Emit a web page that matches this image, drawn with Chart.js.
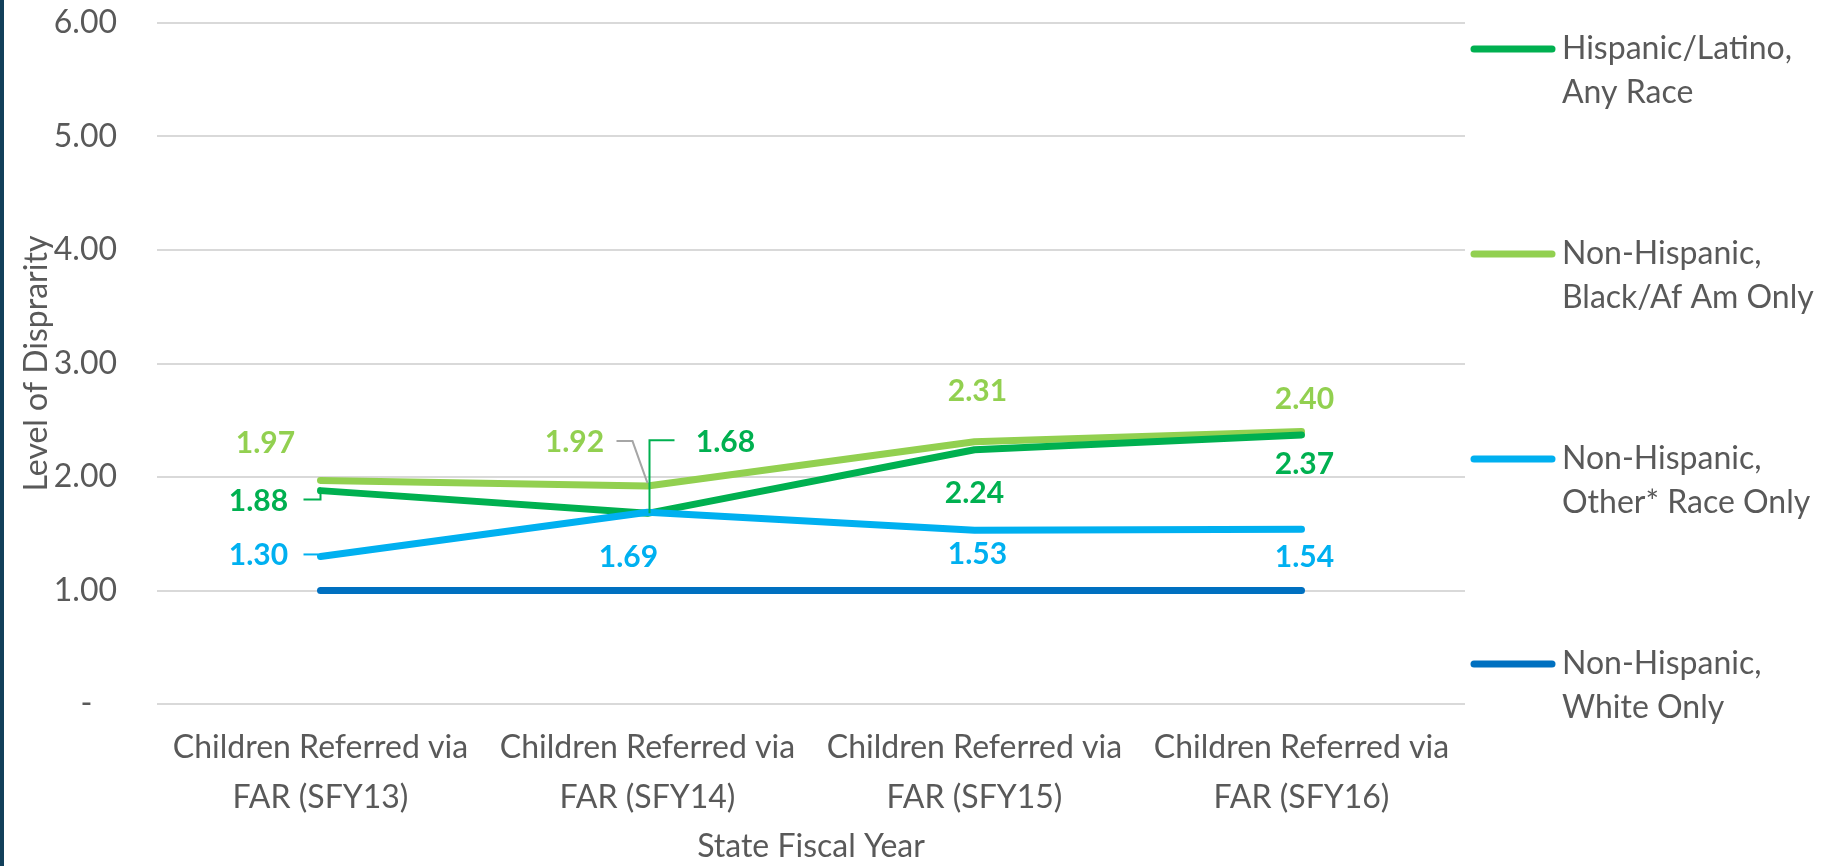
<!DOCTYPE html>
<html>
<head>
<meta charset="utf-8">
<script src="https://cdn.jsdelivr.net/npm/chart.js@4/dist/chart.umd.min.js"></script>
<style>
  html, body { margin: 0; padding: 0; background: #fff; overflow: hidden; }
  #wrap { position: relative; width: 1825px; height: 866px; }
  #edge { position: absolute; left: 0; top: 0; width: 4px; height: 866px; background: #12405a; }
  canvas { display: block; }
</style>
</head>
<body>
<div id="wrap">
  <canvas id="disparity-chart" width="1825" height="866"></canvas>
  <div id="edge"></div>
</div>
<script>
'use strict';

// data
const categories = [
    ['Children Referred via', 'FAR (SFY13)'],
    ['Children Referred via', 'FAR (SFY14)'],
    ['Children Referred via', 'FAR (SFY15)'],
    ['Children Referred via', 'FAR (SFY16)'],
];
const seriesNames = [
    ['Hispanic/Latino,', 'Any Race'],
    ['Non-Hispanic,', 'Black/Af Am Only'],
    ['Non-Hispanic,', 'Other* Race Only'],
    ['Non-Hispanic,', 'White Only'],
];
const hispanic = [1.88, 1.68, 2.24, 2.37];
const black = [1.97, 1.92, 2.31, 2.40];
const other = [1.30, 1.69, 1.53, 1.54];
const white = [1.00, 1.00, 1.00, 1.00];
const yTickMin = 0;
const yTickMax = 6;
const yTickStep = 1;

const colors = ['#00B050', '#92D050', '#00B0F0', '#0070C0'];
const textGrey = '#595959';

// where each value label sits relative to its point (null = no label)
const labelOffsets = [
    [
        {dx: -62, dy: 11, leader: [[-17, 9], [0, 9], [0, 1]]},
        {dx: 78, dy: -71, leader: [[2, 0], [2, -73], [27, -73]]},
        {dx: 0, dy: 44},
        {dx: 3, dy: 29},
    ],
    [
        {dx: -55, dy: -37},
        {dx: -73, dy: -44, leader: [[-31, -45], [-15, -45], [0, -3]], leaderColor: '#A6A6A6'},
        {dx: 3, dy: -50},
        {dx: 3, dy: -32},
    ],
    [
        {dx: -62, dy: -1, leader: [[-17, -2], [-2, -2]]},
        {dx: -19, dy: 45},
        {dx: 3, dy: 24},
        {dx: 3, dy: 28},
    ],
    null,
];

const valueLabels = {
    id: 'valueLabels',
    afterDatasetsDraw(chart) {
        const ctx = chart.ctx;
        ctx.save();
        ctx.font = 'bold 30px Lato';
        ctx.textAlign = 'center';
        ctx.textBaseline = 'middle';
        chart.data.datasets.forEach((ds, di) => {
            const offs = labelOffsets[di];
            if (!offs) return;
            chart.getDatasetMeta(di).data.forEach((pt, i) => {
                const o = offs[i];
                if (!o) return;
                if (o.leader) {
                    ctx.beginPath();
                    o.leader.forEach(([lx, ly], k) => {
                        if (k === 0) ctx.moveTo(pt.x + lx, pt.y + ly);
                        else ctx.lineTo(pt.x + lx, pt.y + ly);
                    });
                    ctx.strokeStyle = o.leaderColor || ds.borderColor;
                    ctx.lineWidth = 2;
                    ctx.stroke();
                }
                ctx.fillStyle = ds.borderColor;
                ctx.fillText(ds.data[i].toFixed(2), pt.x + o.dx, pt.y + o.dy);
            });
        });
        ctx.restore();
    }
};

// legend on the right, line next to the first text row
const sideLegend = {
    id: 'sideLegend',
    afterDraw(chart) {
        const ctx = chart.ctx;
        const x0 = chart.chartArea.right + 5;
        ctx.save();
        ctx.font = '32px Lato';
        ctx.textAlign = 'left';
        ctx.textBaseline = 'middle';
        seriesNames.forEach((lines, i) => {
            const y = 49 + i * 205;
            ctx.beginPath();
            ctx.moveTo(x0 + 4, y);
            ctx.lineTo(x0 + 82, y);
            ctx.strokeStyle = colors[i];
            ctx.lineWidth = 7;
            ctx.lineCap = 'round';
            ctx.stroke();
            ctx.fillStyle = textGrey;
            lines.forEach((t, j) => ctx.fillText(t, x0 + 92, y + j * 44));
        });
        ctx.restore();
    }
};

window.addEventListener('load', () => {
    Chart.defaults.font.family = 'Lato';
    Chart.defaults.color = textGrey;
    const series = [hispanic, black, other, white];
    const drawOrder = [1, 2, 0, 3];
    const config = {
        type: 'line',
        data: {
            labels: categories,
            datasets: series.map((values, i) => ({
                label: seriesNames[i].join(' '),
                data: values,
                borderColor: colors[i],
                backgroundColor: colors[i],
                borderWidth: 7,
                borderCapStyle: 'round',
                borderJoinStyle: 'round',
                pointRadius: 0,
                tension: 0,
                order: drawOrder[i],
            })),
        },
        options: {
            responsive: false,
            animation: false,
            layout: {
                padding: {top: 23, right: 360, bottom: 0, left: 15},
            },
            plugins: {
                legend: false,
                tooltip: false,
            },
            scales: {
                x: {
                    offset: true,
                    grid: {display: false, drawTicks: false},
                    border: {display: false},
                    ticks: {
                        font: {size: 32, lineHeight: 1.5625},
                        color: textGrey,
                        maxRotation: 0,
                        autoSkip: false,
                        padding: 19,
                    },
                    title: {
                        display: true,
                        text: 'State Fiscal Year',
                        font: {size: 32},
                        color: textGrey,
                        padding: {top: 0, bottom: 0},
                    },
                    afterFit: scale => {
                        scale.height = 162;
                    },
                },
                y: {
                    min: yTickMin,
                    max: yTickMax,
                    grid: {color: '#D9D9D9', lineWidth: 2, drawTicks: false},
                    border: {display: false},
                    ticks: {
                        stepSize: yTickStep,
                        font: {size: 32},
                        color: textGrey,
                        padding: 40,
                        callback: v => v === 0 ? '-   ' : v.toFixed(2),
                    },
                    title: {
                        display: true,
                        text: 'Level of Disprarity',
                        font: {size: 32},
                        color: textGrey,
                        padding: {top: 2, bottom: 2},
                    },
                    afterFit: scale => {
                        scale.width = 142;
                        scale.paddingTop = 0;
                        scale.paddingBottom = 0;
                    },
                },
            },
        },
        plugins: [valueLabels, sideLegend],
    };
    new Chart(document.getElementById('disparity-chart'), config);
});
</script>
</body>
</html>
